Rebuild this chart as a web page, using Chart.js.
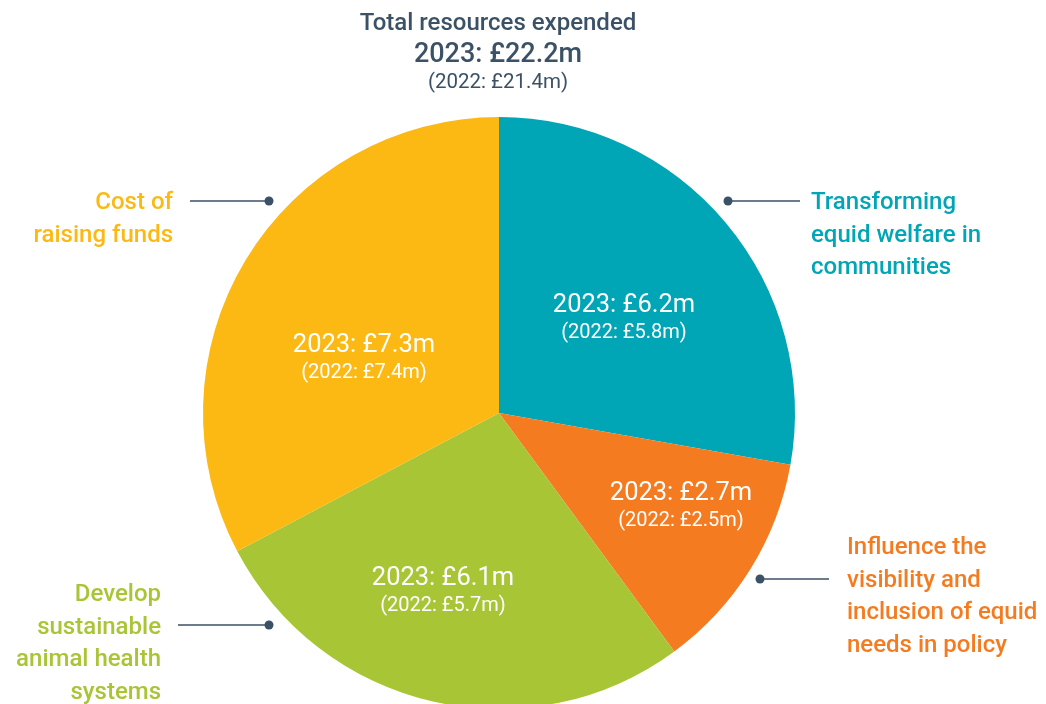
<!DOCTYPE html>
<html>
<head>
<meta charset="utf-8">
<script src="https://cdn.jsdelivr.net/npm/chart.js@4"></script>
<style>
	html, body { margin: 0; padding: 0; background: #fff; overflow: hidden; }
	#wrap { position: absolute; left: 0; top: 0; width: 1046px; height: 740px; }
</style>
</head>
<body>
<div id="wrap"><canvas id="resourcesPie" width="1046" height="740"></canvas></div>
<script>
// Datos del grafico (en millones de libras)
const categories = [
	["Transforming", "equid welfare in", "communities"],
	["Influence the", "visibility and", "inclusion of equid", "needs in policy"],
	["Develop", "sustainable", "animal health", "systems"],
	["Cost of", "raising funds"],
];
const values2023 = [6.2, 2.7, 6.1, 7.3];
const values2022 = [5.8, 2.5, 5.7, 7.4];
const sliceColors = ["#00a5b6", "#f47b20", "#a8c536", "#fdb913"];
const totalText = ["Total resources expended", "2023: £22.2m", "(2022: £21.4m)"];

const navy = "#3b5166";
const fontFamily = "Roboto, 'Noto Sans', sans-serif";

// Posicion de las etiquetas internas respecto al centro del pastel
const insideOffsets = [[125, -95], [182, 93], [-56, 178], [-135, -55]];
// Etiquetas externas: x del texto, y de la primera linea, alineacion, linea guia
const outsideLabels = [
	{x: 811, y: 203, align: "left", line: [728, 800, 201], dot: 728},
	{x: 847, y: 548, align: "left", line: [760, 829, 579], dot: 760},
	{x: 161, y: 595, align: "right", line: [178, 269, 625], dot: 269},
	{x: 173, y: 203, align: "right", line: [190, 269, 201], dot: 269},
];

const labelsPlugin = {
	id: "labelsPlugin",
	afterDraw(chart) {
		const ctx = chart.ctx;
		const arcs = chart.getDatasetMeta(0).data;
		const cx = arcs[0].x;
		const cy = arcs[0].y;
		ctx.save();
		ctx.textBaseline = "middle";

		// Titulo
		ctx.textAlign = "center";
		ctx.fillStyle = navy;
		ctx.font = `500 24px ${fontFamily}`;
		ctx.fillText(totalText[0], 498, 24);
		ctx.font = `500 27px ${fontFamily}`;
		ctx.fillText(totalText[1], 498, 55);
		ctx.font = `400 20.5px ${fontFamily}`;
		ctx.fillText(totalText[2], 498, 83);

		// Etiquetas dentro de cada porcion
		ctx.fillStyle = "#ffffff";
		values2023.forEach((v, i) => {
			const x = cx + insideOffsets[i][0];
			const y = cy + insideOffsets[i][1];
			ctx.font = `400 25.5px ${fontFamily}`;
			ctx.fillText(`2023: £${v.toFixed(1)}m`, x, y - 12);
			ctx.font = `400 20px ${fontFamily}`;
			ctx.fillText(`(2022: £${values2022[i].toFixed(1)}m)`, x, y + 15);
		});

		// Etiquetas externas y lineas guia
		outsideLabels.forEach((lab, i) => {
			ctx.strokeStyle = navy;
			ctx.lineWidth = 1.5;
			ctx.beginPath();
			ctx.moveTo(lab.line[0], lab.line[2]);
			ctx.lineTo(lab.line[1], lab.line[2]);
			ctx.stroke();
			ctx.fillStyle = navy;
			ctx.beginPath();
			ctx.arc(lab.dot, lab.line[2], 4.5, 0, Math.PI * 2);
			ctx.fill();

			ctx.fillStyle = sliceColors[i];
			ctx.textAlign = lab.align;
			ctx.font = `500 24px ${fontFamily}`;
			categories[i].forEach((t, k) => {
				ctx.fillText(t, lab.x, lab.y + k * 32.5);
			});
		});
		ctx.restore();
	},
};

const canvas = document.getElementById("resourcesPie").getContext("2d");
const data = {
	labels: categories.map((c) => c.join(" ")),
	datasets: [
		{
			data: values2023,
			backgroundColor: sliceColors,
			borderWidth: 0,
		},
	],
};
const config = {
	type: "pie",
	data: data,
	options: {
		responsive: false,
		animation: false,
		layout: {
			padding: {left: 203, right: 251, top: 117, bottom: 31},
		},
		plugins: {
			legend: {display: false},
			tooltip: {enabled: false},
		},
	},
	plugins: [labelsPlugin],
};
new Chart(canvas, config);
</script>
</body>
</html>
